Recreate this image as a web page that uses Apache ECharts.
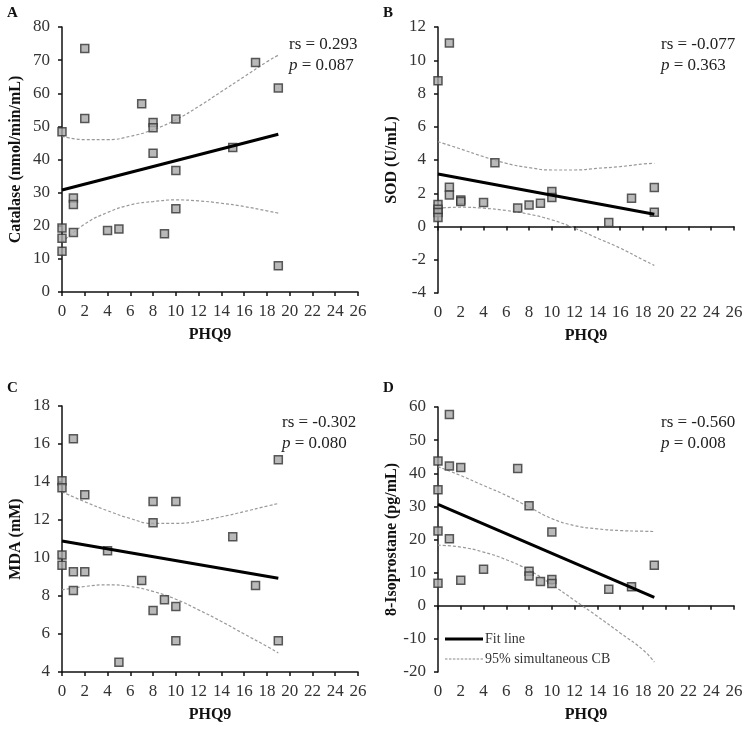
<!DOCTYPE html>
<html>
<head>
<meta charset="utf-8">
<script src="https://cdn.jsdelivr.net/npm/echarts@6/dist/echarts.min.js"></script>
<style>html,body{margin:0;padding:0;background:#fff;}#c{width:750px;height:730px;}</style>
</head>
<body>
<div id="c"></div>
<script>
// ---- data ----
const xTicks = { min: 0, max: 26, interval: 2 };
const cbX = [0, 2, 4, 6, 8, 10, 12, 14, 16, 18, 19];
const fitX = [0, 19];

// Panel A: Catalase
const xA = [2, 17, 19, 7, 2, 10, 8, 8, 0, 15, 8, 10, 1, 1, 10, 1, 0, 4, 5, 9, 0, 0, 19];
const yA = [73.5, 69.3, 61.6, 56.8, 52.4, 52.2, 51.2, 49.6, 48.4, 43.6, 41.9, 36.7, 28.4, 26.4, 25.1, 18.0, 19.3, 18.6, 19.0, 17.6, 16.2, 12.3, 7.9];
const fitA = [30.8, 47.6];
const cbUpA = [47.0, 46.0, 46.0, 47.0, 49.0, 52.0, 56.0, 60.5, 65.0, 69.5, 71.5];
const cbLoA = [15.0, 20.5, 24.0, 26.3, 27.3, 27.8, 27.5, 26.8, 25.8, 24.5, 23.8];

// Panel B: SOD
const xB = [1, 0, 5, 1, 1, 10, 10, 19, 17, 2, 2, 4, 9, 8, 7, 0, 0, 0, 0, 19, 15];
const yB = [11.04, 8.76, 3.84, 2.36, 1.9, 2.1, 1.74, 2.34, 1.7, 1.6, 1.5, 1.44, 1.4, 1.3, 1.12, 1.32, 1.04, 0.84, 0.54, 0.86, 0.24];
const fitB = [3.16, 0.74];
const cbUpB = [5.1, 4.66, 4.2, 3.8, 3.54, 3.4, 3.4, 3.5, 3.6, 3.76, 3.8];
const cbLoB = [1.1, 1.16, 1.1, 0.96, 0.74, 0.4, -0.1, -0.7, -1.3, -2.0, -2.34];

// Panel C: MDA
const xC = [1, 19, 0, 0, 2, 8, 10, 8, 15, 4, 0, 0, 1, 2, 7, 17, 1, 9, 10, 8, 10, 19, 5];
const yC = [16.27, 15.17, 14.06, 13.7, 13.33, 12.98, 12.98, 11.86, 11.12, 10.38, 10.16, 9.62, 9.28, 9.28, 8.81, 8.55, 8.29, 7.8, 7.45, 7.24, 5.65, 5.65, 4.51];
const fitC = [10.9, 8.93];
const cbUpC = [13.48, 12.96, 12.49, 12.08, 11.82, 11.82, 11.94, 12.17, 12.44, 12.73, 12.87];
const cbLoC = [8.32, 8.5, 8.59, 8.5, 8.24, 7.83, 7.27, 6.66, 6.0, 5.35, 5.0];

// Panel D: 8-Isoprostane
const xD = [1, 0, 1, 2, 7, 0, 8, 0, 10, 1, 19, 4, 8, 8, 2, 10, 10, 9, 0, 15, 17];
const yD = [57.7, 43.7, 42.2, 41.7, 41.4, 35.0, 30.2, 22.6, 22.3, 20.2, 12.2, 11.0, 10.4, 9.0, 7.7, 7.9, 6.7, 7.3, 6.8, 5.0, 5.7];
const fitD = [30.6, 2.5];
const cbUpD = [42.0, 39.3, 36.3, 33.3, 29.8, 26.3, 24.2, 23.2, 22.7, 22.5, 22.4];
const cbLoD = [18.3, 17.7, 16.2, 13.9, 10.7, 6.4, 1.6, -3.2, -8.2, -13.3, -17.0];

const yAxes = [
  { name: 'Catalase (nmol/min/mL)', min: 0, max: 80, interval: 10 },
  { name: 'SOD (U/mL)', min: -4, max: 12, interval: 2 },
  { name: 'MDA (mM)', min: 4, max: 18, interval: 2 },
  { name: '8-Isoprostane (pg/mL)', min: -20, max: 60, interval: 10 }
];
const panelLetters = ['A', 'B', 'C', 'D'];
const rsText = ['0.293', '-0.077', '-0.302', '-0.560'];
const pText = ['0.087', '0.363', '0.080', '0.008'];
const xLabel = 'PHQ9';
const legendNames = ['Fit line', '95% simultaneous CB'];

// ---- layout ----
const FONT = '"Liberation Serif", "Times New Roman", serif';
const grids = [
  { left: 62, top: 27, width: 296, height: 265 },
  { left: 438, top: 27, width: 296, height: 266 },
  { left: 62, top: 406, width: 296, height: 266 },
  { left: 438, top: 407, width: 296, height: 265 }
];
const letterPos = [[7, 6], [383, 6], [7, 381], [383, 381]];
const statPos = [[289, 34], [661, 34], [282, 412], [661, 412]];

const panels = [
  [xA, yA, fitA, cbUpA, cbLoA],
  [xB, yB, fitB, cbUpB, cbLoB],
  [xC, yC, fitC, cbUpC, cbLoC],
  [xD, yD, fitD, cbUpD, cbLoD]
];

const axisCommon = {
  axisLine: { show: true, lineStyle: { color: '#111', width: 1.5 } },
  axisTick: { show: true, inside: false, length: 4, lineStyle: { color: '#111', width: 1.5 } },
  splitLine: { show: false },
  nameTextStyle: { fontFamily: FONT, fontSize: 16, fontWeight: 'bold', color: '#111' },
  nameLocation: 'middle'
};

const xAxis = [], yAxis = [], series = [], graphic = [];
panels.forEach((p, i) => {
  xAxis.push(Object.assign({}, axisCommon, {
    type: 'value', gridIndex: i, min: xTicks.min, max: xTicks.max, interval: xTicks.interval,
    axisLabel: { fontFamily: FONT, fontSize: 17, color: '#333', margin: 11 },
    name: xLabel, nameGap: 35
  }));
  yAxis.push(Object.assign({}, axisCommon, {
    type: 'value', gridIndex: i, min: yAxes[i].min, max: yAxes[i].max, interval: yAxes[i].interval,
    axisLabel: { fontFamily: FONT, fontSize: 17, color: '#333', margin: 12 },
    name: yAxes[i].name, nameGap: 38
  }));
  const [xs, ys, fit, up, lo] = p;
  series.push({
    type: 'scatter', xAxisIndex: i, yAxisIndex: i, symbol: 'rect', symbolSize: 8,
    itemStyle: { color: '#a8a8a8', borderColor: '#333', borderWidth: 1.5 },
    data: xs.map((x, k) => [x, ys[k]]), z: 3
  });
  series.push({
    type: 'line', name: legendNames[1], xAxisIndex: i, yAxisIndex: i, smooth: true, symbol: 'none',
    lineStyle: { color: '#999', width: 1.2, type: [3, 2] },
    data: cbX.map((x, k) => [x, up[k]]), z: 2
  });
  series.push({
    type: 'line', name: legendNames[1], xAxisIndex: i, yAxisIndex: i, smooth: true, symbol: 'none',
    lineStyle: { color: '#999', width: 1.2, type: [3, 2] },
    data: cbX.map((x, k) => [x, lo[k]]), z: 2
  });
  series.push({
    type: 'line', name: legendNames[0], xAxisIndex: i, yAxisIndex: i, symbol: 'none',
    lineStyle: { color: '#000', width: 3 },
    data: fitX.map((x, k) => [x, fit[k]]), z: 4
  });
  graphic.push({
    type: 'text', left: letterPos[i][0], top: letterPos[i][1],
    style: { text: panelLetters[i], font: 'bold 15px ' + FONT, fill: '#111' }
  });
  graphic.push({
    type: 'text', left: statPos[i][0], top: statPos[i][1],
    style: {
      text: 'rs = ' + rsText[i] + '\n{i|p} = ' + pText[i],
      font: '17px ' + FONT, fill: '#222', lineHeight: 21,
      rich: { i: { fontStyle: 'italic', fontFamily: FONT, fontSize: 17, fill: '#222' } }
    }
  });
});

// dashed legend icon path (series of short dashes)
let dashPath = 'path://';
for (let k = 0; k < 10; k++) { const s = k * 4; dashPath += 'M' + s + ',0 L' + (s + 2.5) + ',0 L' + (s + 2.5) + ',1 L' + s + ',1 Z '; }

const chart = echarts.init(document.getElementById('c'), null, { renderer: 'canvas' });
chart.setOption({
  animation: false,
  backgroundColor: '#fff',
  grid: grids.map(g => Object.assign({ containLabel: false }, g)),
  xAxis, yAxis, series, graphic,
  legend: {
    data: [
      { name: legendNames[0], icon: 'path://M0,0 L38,0 L38,3 L0,3 Z', itemStyle: { color: '#000' } },
      { name: legendNames[1], icon: dashPath, itemStyle: { color: '#888' } }
    ],
    orient: 'vertical', left: 440, top: 627, itemWidth: 38, itemHeight: 3, itemGap: 6,
    textStyle: { fontFamily: FONT, fontSize: 14, color: '#333', padding: [0, 0, 0, -3] },
    selectedMode: false
  }
});
</script>
</body>
</html>
